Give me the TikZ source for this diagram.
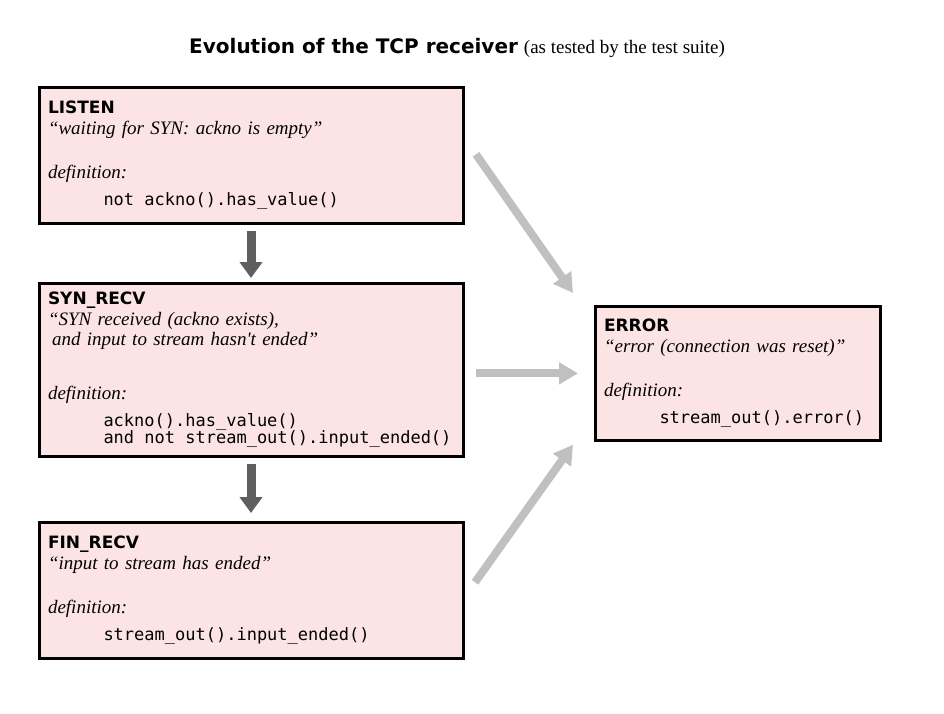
\documentclass[tikz,border=0pt]{standalone}
\usepackage{fontspec}
\setmainfont{Liberation Serif}
\newfontfamily\headsans{DejaVu Sans}
\newfontfamily\monocode{DejaVu Sans Mono}
\usepackage{tikz}
\usetikzlibrary{arrows.meta,positioning}

\definecolor{statefill}{RGB}{253,228,228}
\definecolor{flowgray}{RGB}{95,95,95}
\definecolor{errgray}{RGB}{192,192,192}

\newcommand{\statename}[1]{{\headsans\upshape\bfseries\fontsize{17}{20.5}\selectfont #1}}
\newcommand{\codeline}[1]{\hspace*{55.5pt}{\monocode\upshape\fontsize{17}{20.5}\selectfont\spaceskip=0pt\relax #1}}

\begin{document}
\begin{tikzpicture}[x=1pt,y=-1pt,
  state/.style={rectangle,draw=black,line width=3pt,fill=statefill,anchor=north west,
    text width=406pt,inner xsep=9pt,inner ysep=14pt,align=left,
    font=\itshape\fontsize{19}{20.5}\selectfont},
  move/.style={draw=flowgray,line width=9pt,-{Triangle[width=22pt,length=16pt]}},
  reset/.style={draw=errgray,line width=8pt,-{Triangle[width=21pt,length=19pt]}}]
\useasboundingbox (0,0) rectangle (944,713);

% Title
\node[anchor=base west,inner sep=0pt] (title) at (189,53)
  {{\headsans\bfseries\fontsize{20}{24}\selectfont Evolution of the TCP receiver}\hspace{6pt}%
   {\fontsize{19}{22}\selectfont (as tested by the test suite)}};

% States
\node[state] (listen) at (37.5,85.5) {\statename{LISTEN}\\
  “waiting for SYN: ackno is empty”\\[24pt]
  definition:\\[6.5pt]
  \codeline{not ackno().has\_value()}};

\node[state,inner ysep=9pt] (syn) at (37.5,281.5) {\statename{SYN\_RECV}\\
  “SYN received (ackno exists),\\
  \hspace*{4pt}and input to stream hasn\textquotesingle t ended”\\[33.5pt]
  definition:\\[6.5pt]
  \codeline{ackno().has\_value()}\\[-4pt]
  \codeline{and not stream\_out().input\_ended()}};

\node[state] (fin) at (37.5,520.5) {\statename{FIN\_RECV}\\
  “input to stream has ended”\\[24pt]
  definition:\\[6.5pt]
  \codeline{stream\_out().input\_ended()}};

\node[state,text width=267pt,inner ysep=13pt] (error) at (593.5,304.5) {\statename{ERROR}\\
  “error (connection was reset)”\\[24pt]
  definition:\\[6.5pt]
  \codeline{stream\_out().error()}};

% Connections
\draw[move,shorten <=6pt,shorten >=3.5pt] (listen.south) -- (syn.north);
\draw[move,shorten <=6pt,shorten >=7.5pt] (syn.south) -- (fin.north);
\draw[reset] ([shift={(11.5,-1)}]listen.east) -- ([shift={(-20.5,-11.5)}]error.north west);
\draw[reset,shorten <=11.5pt,shorten >=15.5pt] (syn.east |- error.west) -- (error.west);
\draw[reset] ([shift={(10.5,-8)}]fin.east) -- ([shift={(-20.5,2.5)}]error.south west);
\end{tikzpicture}
\end{document}
